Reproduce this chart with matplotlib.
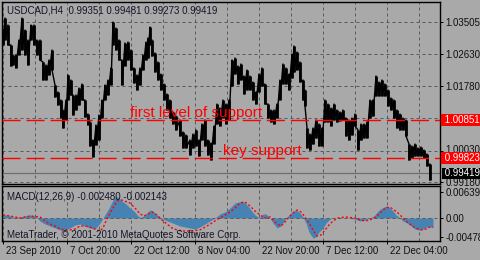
import matplotlib
matplotlib.use('Agg')
import matplotlib.pyplot as plt
import numpy as np
from matplotlib.transforms import blended_transform_factory, ScaledTranslation

plt.rcParams['font.family'] = ['Liberation Sans', 'DejaVu Sans']

# ---------------- data ----------------
symbol = 'USDCAD,H4'
ohlc_last = ['0.99351', '0.99481', '0.99273', '0.99419']

bar_pos = [3, 5, 8, 11, 13, 16, 19, 22, 25, 28, 31, 34, 37, 40, 43, 46, 49, 52, 55, 58,
           61, 63, 66, 68, 71, 73, 76, 79, 82, 85, 88, 90, 93, 96, 99, 102, 105, 108, 111, 113,
           116, 119, 122, 125, 128, 131, 134, 137, 140, 143, 146, 148, 150, 152, 155, 158, 161, 164, 167, 170,
           173, 176, 180, 183, 186, 190, 193, 196, 199, 202, 205, 208, 211, 214, 217, 220, 223, 226, 229, 232,
           235, 238, 241, 244, 247, 250, 253, 256, 259, 262, 265, 268, 271, 274, 277, 280, 283, 286, 289, 292,
           294, 297, 300, 303, 305, 307, 310, 313, 316, 319, 322, 325, 328, 331, 334, 337, 340, 343, 346, 349,
           352, 355, 358, 361, 364, 367, 370, 373, 376, 379, 382, 385, 388, 391, 394, 397, 400, 403, 406, 409,
           412, 415, 418, 421, 424, 427, 430]

high = [1.03289, 1.03613, 1.03424, 1.02883, 1.02613, 1.02613, 1.03019, 1.03613, 1.03289, 1.03019,
        1.03424, 1.03424, 1.03019, 1.03019, 1.02424, 1.02343, 1.02478, 1.02748, 1.01802, 1.01613,
        1.01397, 1.01126, 1.01397, 1.02072, 1.01937, 1.01532, 1.01532, 1.01721, 1.01829, 1.01397,
        1.01018, 1.00802, 1.00315, 1.00721, 1.00991, 1.01397, 1.01802, 1.01937, 1.02262, 1.03505,
        1.03343, 1.03019, 1.02478, 1.02937, 1.02964, 1.02748, 1.02262, 1.02072, 1.02262, 1.02613,
        1.02964, 1.03073, 1.03370, 1.03019, 1.02667, 1.02424, 1.02099, 1.01829, 1.01559, 1.01397,
        1.01072, 1.00964, 1.00856, 1.00532, 1.00451, 1.00315, 1.00478, 1.00586, 1.00315, 1.00748,
        1.00856, 1.00315, 1.00234, 1.00694, 1.01288, 1.01180, 1.01397, 1.01288, 1.01397, 1.02478,
        1.02532, 1.02316, 1.02370, 1.02045, 1.02208, 1.02045, 1.01883, 1.01613, 1.02099, 1.02262,
        1.01829, 1.01288, 1.01126, 1.01126, 1.01288, 1.01937, 1.02370, 1.02262, 1.02099, 1.02640,
        1.02856, 1.02694, 1.02424, 1.01937, 1.01667, 1.00640, 1.00478, 1.00640, 1.00856, 1.00748,
        1.00640, 1.01397, 1.01288, 1.01180, 1.01288, 1.01126, 1.01072, 1.01126, 1.00910, 1.00856,
        1.00910, 1.01018, 1.00586, 1.00748, 1.00748, 1.00802, 1.01397, 1.01397, 1.02045, 1.01883,
        1.01937, 1.01829, 1.01667, 1.01451, 1.01397, 1.01126, 1.01018, 1.00910, 1.00856, 1.00207,
        1.00153, 1.00207, 1.00099, 1.00126, 1.00045, 0.99937, 0.99667]

low = [1.02883, 1.03019, 1.02883, 1.02316, 1.02343, 1.02262, 1.02613, 1.02748, 1.02613, 1.02343,
       1.03019, 1.02883, 1.02613, 1.02478, 1.01937, 1.01937, 1.02072, 1.02208, 1.01478, 1.01261,
       1.00910, 1.00640, 1.00856, 1.01397, 1.01532, 1.00991, 1.01126, 1.01261, 1.01397, 1.00937,
       1.00721, 1.00153, 0.99856, 1.00180, 1.00315, 1.00910, 1.01397, 1.01532, 1.01802, 1.02883,
       1.02748, 1.02478, 1.01802, 1.02316, 1.02478, 1.02208, 1.01856, 1.01667, 1.01802, 1.02208,
       1.02478, 1.02532, 1.02883, 1.02586, 1.02153, 1.01937, 1.01667, 1.01397, 1.01126, 1.00910,
       1.00748, 1.00586, 1.00423, 1.00099, 1.00099, 0.99910, 1.00099, 1.00153, 0.99883, 1.00315,
       1.00153, 0.99910, 0.99775, 1.00207, 1.00748, 1.00694, 1.00910, 1.00748, 1.00856, 1.01775,
       1.02099, 1.01829, 1.01937, 1.01559, 1.01667, 1.01667, 1.01397, 1.01288, 1.01613, 1.01775,
       1.01288, 1.00910, 1.00802, 1.00748, 1.00910, 1.01397, 1.01829, 1.01829, 1.01667, 1.01991,
       1.02153, 1.02208, 1.01883, 1.01397, 1.01234, 1.00099, 1.00045, 1.00207, 1.00369, 1.00153,
       1.00153, 1.00802, 1.00802, 1.00694, 1.00856, 1.00802, 1.00829, 1.00856, 1.00423, 1.00315,
       1.00451, 1.00694, 1.00045, 1.00315, 1.00369, 1.00369, 1.00910, 1.00964, 1.01505, 1.01505,
       1.01505, 1.01505, 1.01234, 1.01126, 1.00910, 1.00640, 1.00586, 1.00586, 1.00423, 0.99775,
       0.99829, 0.99883, 0.99883, 0.99883, 0.99829, 0.99613, 0.99234]

first_support = 1.00851
key_support = 0.99823
bid_price = 0.99419

price_ticks = [1.03505, 1.02630, 1.01780, 1.00905, 1.00030, 0.99180]
price_tick_labels = ['1.03505', '1.02630', '1.01780', '', '1.00030', '0.99180']

macd_pos = [3, 7, 10, 15, 20, 25, 30, 35, 37, 40, 45, 50, 55, 60, 65, 70, 75, 80, 85, 90,
            95, 100, 103, 106, 109, 113, 116, 119, 122, 126, 130, 134, 138, 141, 145, 150, 153, 157, 161, 165,
            170, 175, 180, 185, 190, 195, 200, 205, 210, 215, 220, 225, 230, 235, 239, 242, 245, 248, 251, 255,
            258, 260, 263, 266, 270, 273, 277, 281, 284, 288, 292, 296, 300, 303, 306, 309, 313, 316, 319, 323,
            326, 329, 332, 340, 345, 350, 355, 360, 365, 370, 374, 378, 382, 386, 389, 393, 396, 400, 403, 407,
            411, 415, 419, 423, 427, 431, 433]
macd_hist = [0.00074, 0.00074, 0.00049, 0.00012, 0.00025, 0.00049, 0.00074, 0.00049, 0.00012, -0.00074,
             -0.00148, -0.00197, -0.00246, -0.00295, -0.00295, -0.00246, -0.00172, -0.00148, -0.00197, -0.00246,
             -0.00271, -0.00123, 0.00000, 0.00123, 0.00246, 0.00443, 0.00541, 0.00492, 0.00418, 0.00344,
             0.00246, 0.00172, 0.00049, 0.00012, 0.00074, 0.00197, 0.00172, 0.00074, 0.00000, -0.00049,
             -0.00098, -0.00148, -0.00197, -0.00221, -0.00246, -0.00271, -0.00221, -0.00148, -0.00074, 0.00000,
             0.00098, 0.00148, 0.00246, 0.00369, 0.00394, 0.00418, 0.00369, 0.00295, 0.00197, 0.00074,
             0.00025, 0.00025, 0.00098, 0.00098, 0.00000, -0.00123, -0.00246, -0.00197, -0.00074, 0.00049,
             0.00148, 0.00197, 0.00123, 0.00025, -0.00123, -0.00344, -0.00492, -0.00467, -0.00344, -0.00246,
             -0.00123, -0.00049, 0.00000, 0.00007, 0.00007, -0.00012, -0.00025, -0.00074, -0.00049, 0.00000,
             0.00049, 0.00172, 0.00246, 0.00295, 0.00271, 0.00172, 0.00074, 0.00000, -0.00074, -0.00123,
             -0.00197, -0.00271, -0.00295, -0.00271, -0.00221, -0.00221, -0.00248]

signal_pos = [3, 10, 20, 30, 40, 45, 50, 55, 60, 65, 70, 75, 80, 85, 90, 95, 100, 103, 106, 110,
              113, 117, 122, 127, 130, 135, 140, 144, 148, 152, 157, 162, 167, 172, 177, 183, 190, 200, 207, 212,
              218, 222, 225, 230, 235, 240, 245, 250, 255, 260, 265, 270, 273, 277, 281, 285, 289, 293, 297, 301,
              305, 309, 313, 317, 321, 325, 329, 333, 338, 345, 355, 360, 365, 370, 374, 378, 382, 386, 390, 394,
              398, 402, 406, 410, 414, 418, 422, 426, 430, 433]
signal_val = [0.00074, 0.00049, 0.00000, 0.00049, 0.00025, -0.00074, -0.00148, -0.00197, -0.00271, -0.00295,
              -0.00295, -0.00271, -0.00197, -0.00197, -0.00221, -0.00271, -0.00320, -0.00246, -0.00074, 0.00123,
              0.00246, 0.00418, 0.00443, 0.00394, 0.00369, 0.00246, 0.00098, 0.00049, 0.00098, 0.00148,
              0.00074, -0.00049, -0.00148, -0.00246, -0.00295, -0.00320, -0.00320, -0.00295, -0.00197, -0.00123,
              -0.00025, 0.00025, 0.00074, 0.00148, 0.00246, 0.00369, 0.00394, 0.00295, 0.00172, 0.00074,
              0.00000, 0.00025, -0.00049, -0.00148, -0.00197, -0.00098, 0.00025, 0.00123, 0.00197, 0.00148,
              0.00025, -0.00123, -0.00295, -0.00443, -0.00418, -0.00295, -0.00172, -0.00074, 0.00000, 0.00025,
              0.00000, -0.00049, -0.00074, -0.00049, 0.00000, 0.00074, 0.00172, 0.00246, 0.00271, 0.00197,
              0.00123, 0.00025, -0.00074, -0.00148, -0.00221, -0.00271, -0.00295, -0.00271, -0.00221, -0.00214]

macd_title = 'MACD(12,26,9) -0.002480 -0.002143'
macd_ticks = [0.006396, 0.0, -0.00478]
macd_tick_labels = ['0.006396', '0.00', '-0.00478']

date_pos = [3, 67, 131, 195, 259, 323, 387]
date_labels = ['23 Sep 2010', '7 Oct 20:00', '22 Oct 12:00', '8 Nov 04:00',
               '22 Nov 20:00', '7 Dec 12:00', '22 Dec 04:00']
grid_minor_pos = [35, 99, 163, 227, 291, 355, 419]

copyright_text = 'MetaTrader, \u00a9 2001-2010 MetaQuotes Software Corp.'

# ---------------- styling ----------------
BG = '#A9A9A9'
GRID = '#5A5A5A'
TXT = '#141428'
PX = 0.72  # one pixel in points at 100 dpi
W, H = 480, 260

fig = plt.figure(figsize=(4.8, 2.6), dpi=100, facecolor=BG)


def rect(l, t, r, b):
    return [l / W, 1 - b / H, (r - l) / W, (b - t) / H]


ax = fig.add_axes(rect(2, 2, 440, 184))
axm = fig.add_axes(rect(2, 186, 440, 241))

for a in (ax, axm):
    a.set_facecolor(BG)
    for s in a.spines.values():
        s.set_color('black')
        s.set_linewidth(1.0)
    a.set_xlim(2, 440)
    a.set_xticks(date_pos)
    a.set_xticks(grid_minor_pos, minor=True)
    a.grid(axis='x', which='both', color=GRID, linewidth=PX, linestyle=(0, (3, 3)))
    a.yaxis.tick_right()
    a.set_axisbelow(True)

# main panel
ax.set_ylim(0.99126, 1.04046)
ax.set_yticks(price_ticks)
ax.set_yticklabels(price_tick_labels)
ax.grid(axis='y', color=GRID, linewidth=PX, linestyle=(0, (3, 3)))
ax.tick_params(axis='x', which='both', length=0, labelbottom=False)
ax.tick_params(axis='y', direction='out', length=3 * PX, width=PX, pad=2,
               labelsize=7, labelcolor='#101010', color='black')
up = ScaledTranslation(0, 2 / 100, fig.dpi_scale_trans)
for lbl, txt in zip(ax.get_yticklabels(), price_tick_labels):
    if txt == '1.00030':
        lbl.set_transform(lbl.get_transform() + up)

ax.axhline(bid_price, color='#6E6E6E', linewidth=PX * 1.2, zorder=1.5)

xs = np.repeat(bar_pos, 2)
ys = np.column_stack([high, low]).ravel()
ax.plot(xs, ys, color='black', linewidth=1.0, zorder=3)
ax.vlines(bar_pos, low, high, color='black', linewidth=2.0, zorder=3)

for lvl in (first_support, key_support):
    ax.axhline(lvl, color='red', linewidth=1.0, linestyle=(0, (13, 4.3)), zorder=4)

ax.text(130, first_support, 'first level of support', color='red', fontsize=11,
        ha='left', va='bottom', zorder=5)
ax.text(223, key_support, 'key support', color='red', fontsize=11,
        ha='left', va='bottom', zorder=5)

trans = blended_transform_factory(ax.transAxes, ax.transData)
xlab = 1.0 + 2.2 / 438
box_kw = dict(transform=trans, fontsize=7, ha='left', va='center', clip_on=False, zorder=6)
ax.text(xlab, first_support, f' {first_support:.5f}', color='white',
        bbox=dict(boxstyle='square,pad=0.1', fc='red', ec='none'), **box_kw)
ax.text(xlab, key_support, f' {key_support:.5f}', color='white',
        bbox=dict(boxstyle='square,pad=0.1', fc='red', ec='none'), **box_kw)
ax.text(xlab, bid_price, f' {bid_price:.5f}', color='white',
        bbox=dict(boxstyle='square,pad=0.05', fc='black', ec='none'), **box_kw)

fig.text(7 / W, 1 - 10.5 / H, symbol + '  ' + ' '.join(ohlc_last), fontsize=7,
         color=TXT, ha='left', va='center')

# MACD panel
axm.set_ylim(-0.00566, 0.00787)
axm.fill_between(macd_pos, 0, macd_hist, color='#4682B4', linewidth=0, zorder=2)
axm.axhline(0, color=GRID, linewidth=PX, linestyle=(0, (3, 3)), zorder=2.5)
axm.plot(signal_pos, signal_val, color='red', linewidth=1.0, linestyle=(0, (1.5, 1.5)), zorder=3)
axm.set_yticks(macd_ticks)
axm.set_yticklabels(macd_tick_labels)
axm.tick_params(axis='y', direction='out', length=3 * PX, width=PX, pad=2,
                labelsize=7, labelcolor='#101010', color='black')
axm.set_xticklabels(date_labels)
axm.tick_params(axis='x', which='major', direction='out', length=3 * PX, width=PX, pad=1.5,
                labelsize=7, labelcolor='#101010', color='black')
axm.tick_params(axis='x', which='minor', length=0)
off = ScaledTranslation(3 / 100, 0, fig.dpi_scale_trans)
for lbl in axm.get_xticklabels():
    lbl.set_ha('left')
    lbl.set_transform(lbl.get_transform() + off)

fig.text(7 / W, 1 - 196.5 / H, macd_title, fontsize=7, color=TXT, ha='left', va='center')
fig.text(7 / W, 1 - 234.5 / H, copyright_text, fontsize=7, color=TXT, ha='left', va='center')

fig.savefig('out.png', dpi=100, facecolor=BG)
